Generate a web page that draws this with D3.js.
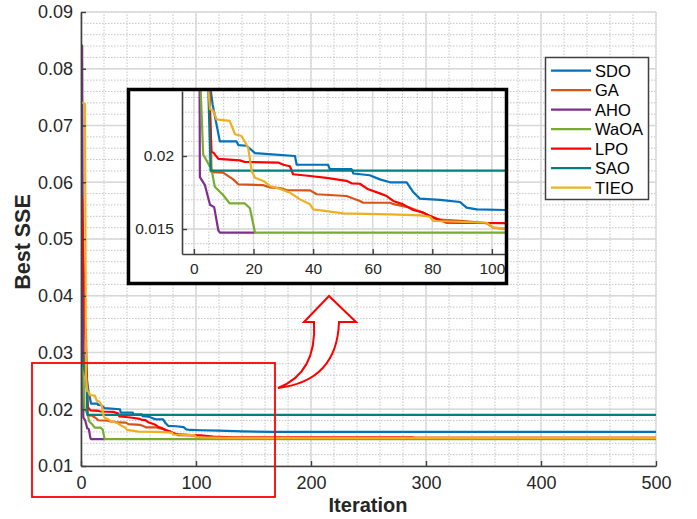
<!DOCTYPE html>
<html>
<head>
<meta charset="utf-8">
<script src="https://cdn.jsdelivr.net/npm/d3@7"></script>
<style>
  html, body { margin: 0; padding: 0; background: #fff; }
  svg { display: block; font-family: "Liberation Sans", Arial, Helvetica, sans-serif; }
  .tick text { fill: #262626; }
</style>
</head>
<body>
<svg id="chart" width="697" height="519"></svg>
<script>
// ---- data: [iteration, best SSE] vertices ----
const seriesNames = ['SDO', 'GA', 'AHO', 'WaOA', 'LPO', 'SAO', 'TIEO'];
const seriesColors = ['#0072BD', '#D95319', '#7E2F8E', '#77AC30', '#FF0000', '#008080', '#EDB120'];

const sdo = [[0,0.040],[2,0.030],[4,0.027],[6.3,0.0235],[8.7,0.0210],[14.3,0.0210],[14.9,0.02075],[17.7,0.0207],
  [20.5,0.0202],[33.9,0.0200],[34.5,0.0194],[45,0.0194],[45.6,0.0191],[52.9,0.0191],[53.5,0.0188],[59,0.01868],
  [62.4,0.0184],[65.8,0.0182],[71.4,0.0182],[73.6,0.01753],[75.8,0.01708],[82.6,0.0170],[89.3,0.01685],
  [91.5,0.01646],[94.9,0.01635],[105,0.0163],[120,0.01625],[140,0.0161],[167,0.0160],[500,0.0160]];
const ga = [[0,0.0345],[4.2,0.0342],[5.9,0.0189],[9.8,0.01886],[13.2,0.0184],[14.9,0.01806],[23.3,0.0180],
  [25.5,0.01785],[28.9,0.0178],[31.1,0.01767],[39,0.01765],[41.2,0.01738],[51.2,0.01726],[55.7,0.01692],
  [56.8,0.0168],[65.8,0.0168],[67,0.0167],[72.5,0.01646],[77,0.01612],[81.4,0.01566],[90.4,0.01555],
  [98.2,0.0154],[100.4,0.0151],[105,0.0150],[130,0.01495],[500,0.01495]];
const aho = [[0,0.0841],[1,0.0841],[2,0.01855],[3.7,0.0180],[5.4,0.01666],[6.8,0.0165],[8.2,0.0149],
  [8.7,0.01475],[20.5,0.01475]];
const waoa = [[0,0.0290],[2,0.0260],[3.1,0.0201],[5.9,0.0191],[7,0.0179],[9.8,0.01733],[12,0.01676],
  [17.1,0.01675],[18.8,0.01642],[20.5,0.01475],[500,0.01475]];
const lpo = [[0,0.058],[1,0.057],[4,0.030],[5.9,0.0203],[6.7,0.0202],[8.2,0.0198],[15.4,0.0197],[17,0.0196],
  [28.3,0.01955],[30,0.0194],[32.2,0.0193],[33.3,0.01875],[39,0.01863],[44.5,0.0185],[51.2,0.0183],
  [52.9,0.01813],[55.7,0.0181],[58.5,0.01772],[62.4,0.01744],[64.7,0.01726],[66.9,0.01692],[70.2,0.01669],
  [73.6,0.0163],[77,0.01612],[79.2,0.0159],[84.8,0.01543],[104,0.0154],[115,0.0152],[130,0.01505],
  [288,0.01505],[290,0.01495],[500,0.01495]];
const sao = [[0,0.0297],[4.7,0.0255],[5.6,0.0190],[500,0.0190]];
const tieo = [[0,0.0741],[3.5,0.0738],[4.3,0.026],[5.4,0.0232],[6.5,0.0231],[7.6,0.02251],[12,0.0224],
  [13.8,0.02149],[16,0.02137],[18.2,0.02057],[19.4,0.01897],[20.5,0.01851],[23.3,0.01829],[25.5,0.01795],
  [28.9,0.01775],[32.2,0.01749],[35.6,0.01703],[39,0.01669],[40,0.01635],[44.5,0.01623],[50.1,0.01607],
  [65.8,0.0160],[75.8,0.01594],[79.2,0.01584],[80.3,0.01555],[90.4,0.01548],[98.2,0.01543],[100.4,0.0151],
  [105,0.01503],[130,0.01495],[500,0.01495]];
const seriesData = [sdo, ga, aho, waoa, lpo, sao, tieo];

const mainXTicks = [0, 100, 200, 300, 400, 500];
const mainYTicks = [0.01, 0.02, 0.03, 0.04, 0.05, 0.06, 0.07, 0.08, 0.09];
const insetXTicks = [0, 20, 40, 60, 80, 100];
const insetYTicks = [0.015, 0.02];

const svg = d3.select('#chart');
const axisColor = '#404040';

function drawGrid(g, x, y, xMajor, yMajor, xMinor, yMinor) {
  const [x0, x1] = x.range();
  const [y0, y1] = y.range();
  g.selectAll('.minor-x').data(xMinor).enter().append('line')
    .attr('x1', d => x(d)).attr('x2', d => x(d)).attr('y1', y0).attr('y2', y1)
    .attr('stroke', '#c4c4c4').attr('stroke-width', 1).attr('stroke-dasharray', '1.5,1.5');
  g.selectAll('.minor-y').data(yMinor).enter().append('line')
    .attr('x1', x0).attr('x2', x1).attr('y1', d => y(d)).attr('y2', d => y(d))
    .attr('stroke', '#c4c4c4').attr('stroke-width', 1).attr('stroke-dasharray', '1.5,1.5');
  g.selectAll('.major-x').data(xMajor).enter().append('line')
    .attr('x1', d => x(d)).attr('x2', d => x(d)).attr('y1', y0).attr('y2', y1)
    .attr('stroke', '#d8d8d8').attr('stroke-width', 1.3);
  g.selectAll('.major-y').data(yMajor).enter().append('line')
    .attr('x1', x0).attr('x2', x1).attr('y1', d => y(d)).attr('y2', d => y(d))
    .attr('stroke', '#d8d8d8').attr('stroke-width', 1.3);
}

function drawAxes(g, x, y, xTicks, yTicks, xFmt, yFmt, fontSize, xPad, yPad) {
  const xAxis = g.append('g')
    .attr('transform', `translate(0,${y.range()[0]})`)
    .call(d3.axisBottom(x).tickValues(xTicks).tickFormat(xFmt).tickSizeInner(-5).tickSizeOuter(0).tickPadding(xPad));
  const yAxis = g.append('g')
    .attr('transform', `translate(${x.range()[0]},0)`)
    .call(d3.axisLeft(y).tickValues(yTicks).tickFormat(yFmt).tickSizeInner(-5).tickSizeOuter(0).tickPadding(yPad));
  [xAxis, yAxis].forEach(a => {
    a.select('.domain').attr('stroke', axisColor).attr('stroke-width', 1.6);
    a.selectAll('.tick line').attr('stroke', axisColor).attr('stroke-width', 1.4);
    a.selectAll('.tick text').style('font-size', fontSize + 'px').attr('fill', '#262626');
  });
}

function drawSeries(g, x, y, clipId) {
  const line = d3.line().x(d => x(d[0])).y(d => y(d[1]));
  const lg = g.append('g').attr('clip-path', `url(#${clipId})`);
  seriesData.forEach((s, i) => {
    lg.append('path').datum(s)
      .attr('fill', 'none')
      .attr('stroke', seriesColors[i])
      .attr('stroke-width', 2.2)
      .attr('stroke-linejoin', 'round')
      .attr('d', line);
  });
}

const defs = svg.append('defs');

// ---- main axes ----
const mx = d3.scaleLinear().domain([0, 500]).range([81, 656]);
const my = d3.scaleLinear().domain([0.01, 0.09]).range([466, 12]);
defs.append('clipPath').attr('id', 'clip-main').append('rect')
  .attr('x', 81).attr('y', 10).attr('width', 577).attr('height', 458);

const mainG = svg.append('g');
drawGrid(mainG, mx, my, mainXTicks, mainYTicks, d3.range(0, 501, 20), d3.range(0.01, 0.0901, 0.002));
drawSeries(mainG, mx, my, 'clip-main');
drawAxes(mainG, mx, my, mainXTicks, mainYTicks, d3.format('d'), d => d3.format('.2f')(d), 18, 10, 8);

// axis titles
svg.append('text')
  .attr('x', 368).attr('y', 512)
  .attr('text-anchor', 'middle')
  .style('font-size', '20px').style('font-weight', 'bold').attr('fill', '#262626')
  .text('Iteration');
svg.append('text')
  .attr('transform', 'translate(30,242) rotate(-90)')
  .attr('text-anchor', 'middle')
  .style('font-size', '21.5px').style('font-weight', 'bold').attr('fill', '#262626')
  .text('Best SSE');

// ---- legend ----
const legend = svg.append('g');
legend.append('rect')
  .attr('x', 545.5).attr('y', 57.5).attr('width', 103).attr('height', 142)
  .attr('fill', '#fff').attr('stroke', '#404040').attr('stroke-width', 1.5);
seriesNames.forEach((name, i) => {
  const yy = 70.7 + i * 19.5;
  legend.append('line')
    .attr('x1', 551).attr('x2', 591).attr('y1', yy).attr('y2', yy)
    .attr('stroke', seriesColors[i]).attr('stroke-width', 2.2);
  legend.append('text')
    .attr('x', 595).attr('y', yy).attr('dy', '0.36em')
    .style('font-size', '16.5px').attr('fill', '#000')
    .text(name);
});

// ---- zoom highlight and arrow ----
svg.append('rect')
  .attr('x', 32).attr('y', 363).attr('width', 243).attr('height', 134)
  .attr('fill', 'none').attr('stroke', '#ff0000').attr('stroke-width', 1.8);
svg.append('path')
  .attr('d', 'M278,388 Q337,381 339,322 L356,322 L329,296 L304,322 L314,322 Q317,373 278,388 Z')
  .attr('fill', '#fff').attr('stroke', '#ff0000').attr('stroke-width', 2).attr('stroke-linejoin', 'miter');

// ---- inset ----
svg.append('rect')
  .attr('x', 128.5).attr('y', 89.5).attr('width', 378).attr('height', 194)
  .attr('fill', '#fff').attr('stroke', 'none');
const ix = d3.scaleLinear().domain([-4, 104.4]).range([182, 505]);
const iy = d3.scaleLinear().domain([0.01329, 0.02445]).range([254, 91]);
defs.append('clipPath').attr('id', 'clip-inset').append('rect')
  .attr('x', 182).attr('y', 89).attr('width', 324).attr('height', 166);
const insetG = svg.append('g');
drawGrid(insetG, ix, iy, insetXTicks, insetYTicks, d3.range(0, 105, 5), d3.range(0.014, 0.0245, 0.001));
drawSeries(insetG, ix, iy, 'clip-inset');
drawAxes(insetG, ix, iy, insetXTicks, insetYTicks, d3.format('d'), d => d === 0.02 ? '0.02' : '0.015', 15.5, 9, 8);
svg.append('rect')
  .attr('x', 128.5).attr('y', 89.5).attr('width', 378).attr('height', 194)
  .attr('fill', 'none').attr('stroke', '#000').attr('stroke-width', 3.5);
</script>
</body>
</html>
